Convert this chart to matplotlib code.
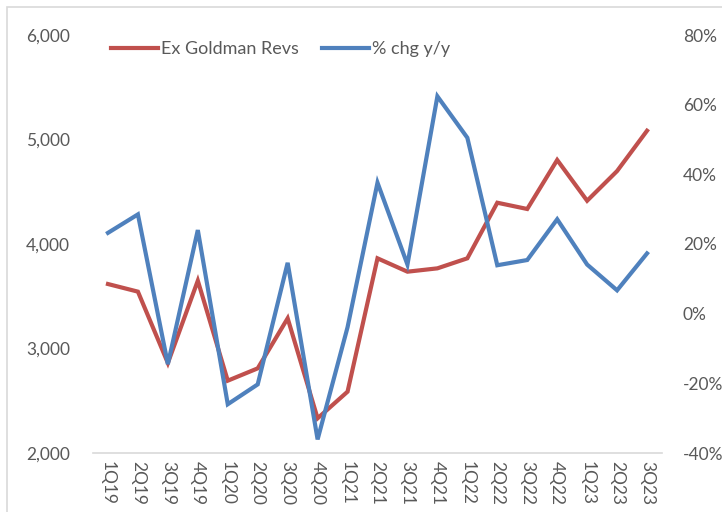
import matplotlib
matplotlib.use("Agg")
import matplotlib.pyplot as plt
from matplotlib.patches import Rectangle
from matplotlib.ticker import FuncFormatter, FixedLocator

quarters = ["1Q19", "2Q19", "3Q19", "4Q19", "1Q20", "2Q20", "3Q20", "4Q20",
            "1Q21", "2Q21", "3Q21", "4Q21", "1Q22", "2Q22", "3Q22", "4Q22",
            "1Q23", "2Q23", "3Q23"]
ex_goldman_revs = [3617, 3544, 2861, 3649, 2692, 2810, 3289, 2332,
                   2587, 3863, 3735, 3767, 3863, 4395, 4335, 4804,
                   4414, 4698, 5084]
pct_chg_yy = [23.2, 28.5, -14.5, 24.0, -26.0, -20.3, 14.6, -36.1,
              -3.9, 37.6, 14.1, 62.4, 50.5, 13.9, 15.4, 27.1,
              14.1, 6.7, 17.3]
left_ticks = [2000, 3000, 4000, 5000, 6000]
right_ticks = [-40, -20, 0, 20, 40, 60, 80]

RED = "#C0504D"
BLUE = "#4F81BD"
TXT = "#595959"
FONT = "Lato"
FS = 12.5

plt.rcParams['font.family'] = [FONT, 'DejaVu Sans']

fig = plt.figure(figsize=(7.22, 5.12), dpi=100)
W, H = 722, 512
fig.patches.append(Rectangle((7 / W, -0.1), 1.2, 1 - 7 / H + 0.1,
                             transform=fig.transFigure, fill=False,
                             edgecolor="#D9D9D9", linewidth=1.2))

ax = fig.add_axes([93 / W, 1 - 453 / H, (662 - 93) / W, (453 - 35) / H])
ax2 = ax.twinx()

x = list(range(len(quarters)))
l1, = ax.plot(x, ex_goldman_revs, color=RED, lw=3.0, solid_joinstyle="miter",
              label="Ex Goldman Revs")
l2, = ax2.plot(x, pct_chg_yy, color=BLUE, lw=3.0, solid_joinstyle="miter",
               label="% chg y/y")

ax.set_xlim(-0.5, len(quarters) - 0.5)
ax.set_ylim(2000, 6000)
ax2.set_ylim(-40, 80)
ax.yaxis.set_major_locator(FixedLocator(left_ticks))
ax2.yaxis.set_major_locator(FixedLocator(right_ticks))
ax.yaxis.set_major_formatter(FuncFormatter(lambda v, p: f"{int(v):,}"))
ax2.yaxis.set_major_formatter(FuncFormatter(lambda v, p: f"{int(v)}%"))
ax.set_xticks(x)
ax.set_xticklabels(quarters, rotation=-90, fontsize=FS, color=TXT)

for a in (ax, ax2):
    for s in a.spines.values():
        s.set_visible(False)
    a.tick_params(length=0, labelsize=FS, labelcolor=TXT)
ax.spines["bottom"].set_visible(True)
ax.spines["bottom"].set_color("#D9D9D9")
ax.spines["bottom"].set_linewidth(1.2)
ax.tick_params(axis="y", pad=16.5)
ax2.tick_params(axis="y", pad=15)
ax.tick_params(axis="x", pad=6)
for lab in ax.get_xticklabels():
    lab.set_verticalalignment("top")

fig.legend(handles=[l1, l2], loc="center left",
           bbox_to_anchor=(95 / W, 1 - 49 / H), ncol=2, frameon=False,
           fontsize=13, labelcolor=TXT, handlelength=2.6,
           handletextpad=0.15, columnspacing=1.3)

fig.savefig("out.png", dpi=100)
